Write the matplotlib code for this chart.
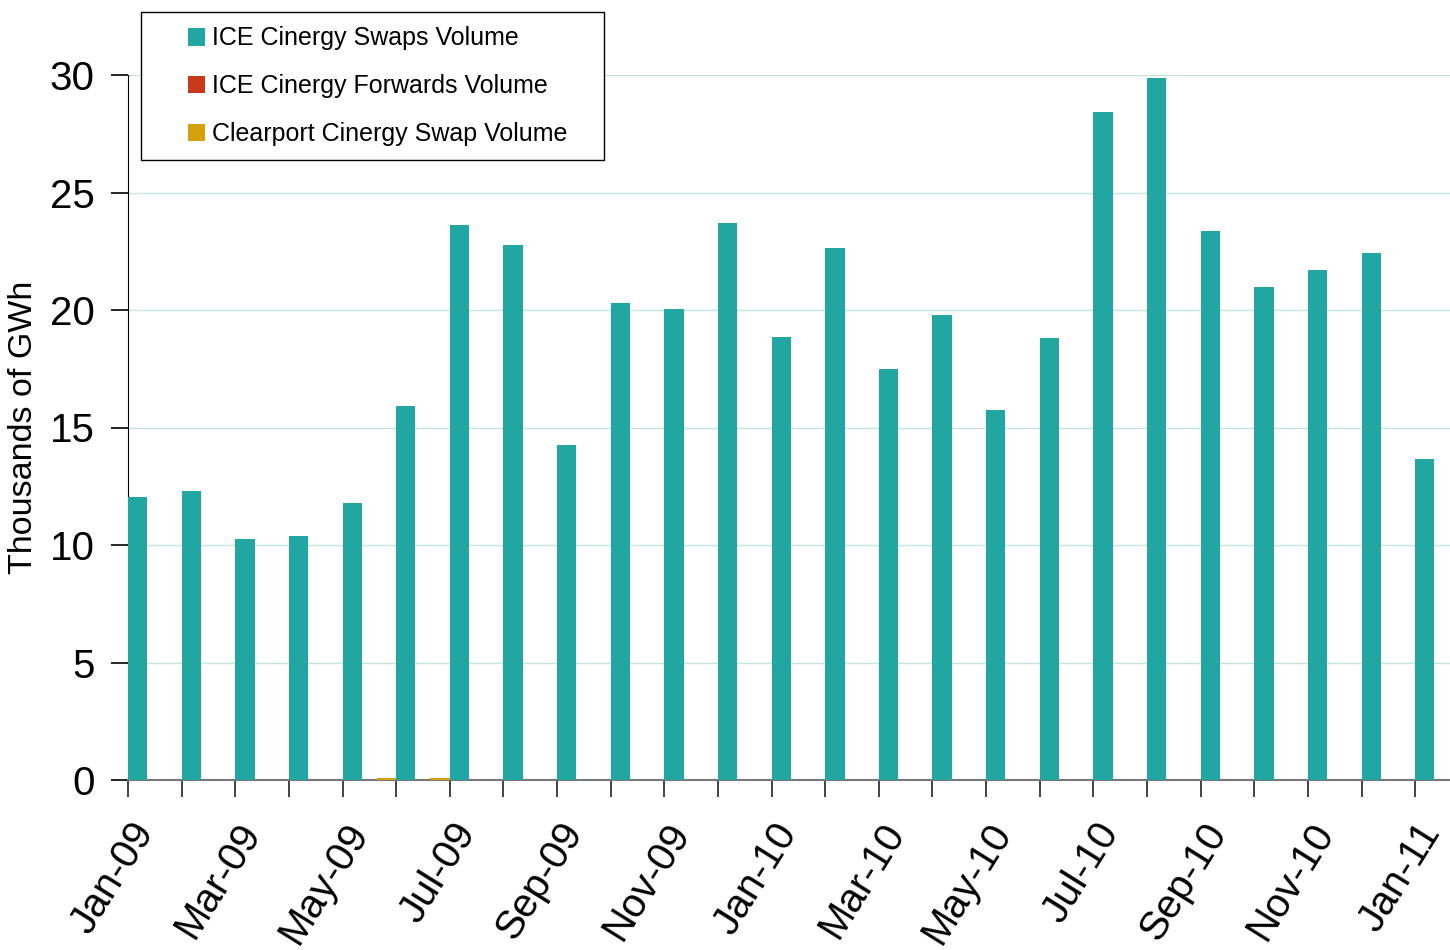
import matplotlib
matplotlib.use('Agg')
import matplotlib.pyplot as plt
import matplotlib.transforms as mtransforms
from matplotlib.patches import Rectangle
import numpy as np

plt.rcParams['font.family'] = ['Liberation Sans', 'DejaVu Sans']

months = ['Jan-09', 'Feb-09', 'Mar-09', 'Apr-09', 'May-09', 'Jun-09', 'Jul-09',
          'Aug-09', 'Sep-09', 'Oct-09', 'Nov-09', 'Dec-09', 'Jan-10', 'Feb-10',
          'Mar-10', 'Apr-10', 'May-10', 'Jun-10', 'Jul-10', 'Aug-10', 'Sep-10',
          'Oct-10', 'Nov-10', 'Dec-10', 'Jan-11']

ice_swaps = [12.04, 12.3, 10.26, 10.38, 11.79, 15.91, 23.62, 22.77, 14.26, 20.3,
             20.04, 23.7, 18.85, 22.64, 17.49, 19.79, 15.74, 18.81, 28.43, 29.87,
             23.36, 20.98, 21.7, 22.43, 13.66]
ice_forwards = [0] * 25
clearport = [0, 0, 0, 0, 0, 0.08, 0.09, 0, 0, 0, 0, 0, 0, 0, 0, 0, 0, 0, 0, 0,
             0, 0, 0, 0, 0]

teal = '#22A6A2'
red = '#C8391A'
gold = '#D4A00E'

fig = plt.figure(figsize=(14.5, 9.5), dpi=100)
ax = fig.add_axes([128 / 1450, 1 - 780 / 950, (1450 - 128) / 1450, (780 - 75) / 950])

x = np.arange(len(months))
w = 0.36
ax.bar(x, ice_swaps, width=w, align='edge', color=teal, label='ICE Cinergy Swaps Volume', zorder=3)
ax.bar(x, ice_forwards, width=-w, align='edge', color=red, label='ICE Cinergy Forwards Volume', zorder=3)
ax.bar(x, clearport, width=-w, align='edge', color=gold, label='Clearport Cinergy Swap Volume', zorder=3)

ax.set_xlim(0, 24.65)
ax.set_ylim(0, 30)
ax.set_yticks(range(0, 31, 5))
ax.grid(axis='y', color='#c5e3df', linewidth=1, zorder=0)

ax.set_xticks(x)
ax.set_xticklabels([m if i % 2 == 0 else '' for i, m in enumerate(months)],
                   rotation=58, ha='right', va='center', rotation_mode='anchor', fontsize=29)
ax.tick_params(axis='x', length=12, width=1.2, color='#222222', pad=14)
ax.tick_params(axis='y', length=12, width=1.2, labelsize=29, pad=12)

# shift the rotated labels a bit right/down like the original
offset = mtransforms.ScaledTranslation(17 / 100, -10 / 100, fig.dpi_scale_trans)
for lab in ax.get_xticklabels():
    lab.set_transform(lab.get_transform() + offset)

for s in ['top', 'right']:
    ax.spines[s].set_visible(False)
ax.spines['left'].set_color('black')
ax.spines['bottom'].set_color('#777777')
ax.spines['bottom'].set_linewidth(1.5)

ax.set_ylabel('Thousands of GWh', fontsize=24.5, labelpad=8)

# legend box drawn separately so it can be wider than its content
box = Rectangle((141 / 1450, 1 - 160 / 950), (604 - 141) / 1450, (160 - 12) / 950,
                transform=fig.transFigure, facecolor='white', edgecolor='black',
                linewidth=1, zorder=5, clip_on=False)
ax.add_artist(box)
leg = ax.legend(loc='upper left', bbox_to_anchor=(180 / 1450, 1 - 19 / 950),
                bbox_transform=fig.transFigure, fontsize=18, frameon=False,
                handlelength=0.7, handleheight=0.7,
                handletextpad=0.3, labelspacing=0.95, borderpad=0.3, borderaxespad=0)
leg.set_zorder(6)

fig.savefig('out.png', dpi=100)
